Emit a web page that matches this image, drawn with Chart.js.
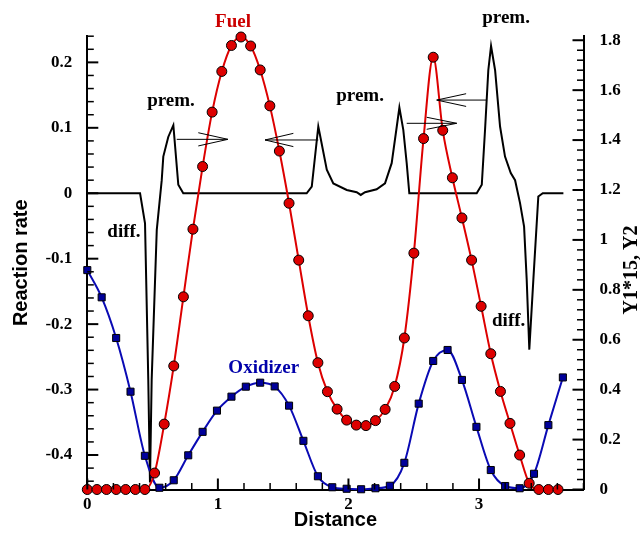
<!DOCTYPE html>
<html>
<head>
<meta charset="utf-8">
<script src="https://cdn.jsdelivr.net/npm/chart.js@4/dist/chart.umd.min.js"></script>
<style>
  html, body { margin: 0; padding: 0; background: #fff; }
  #wrap { width: 640px; height: 535px; }
</style>
</head>
<body>
<div id="wrap"><canvas id="c" width="640" height="535"></canvas></div>
<script>
// ---- data ----
const X_TICKS = [0, 1, 2, 3];
const LEFT_TICKS = [-0.4, -0.3, -0.2, -0.1, 0, 0.1, 0.2];
const RIGHT_TICKS = [0, 0.2, 0.4, 0.6, 0.8, 1, 1.2, 1.4, 1.6, 1.8];

const fuelX = [0, 0.074, 0.147, 0.221, 0.294, 0.368, 0.441, 0.515, 0.589, 0.662,
  0.736, 0.809, 0.883, 0.956, 1.030, 1.104, 1.177, 1.251, 1.324, 1.398,
  1.471, 1.545, 1.619, 1.692, 1.766, 1.839, 1.913, 1.986, 2.060, 2.134,
  2.207, 2.281, 2.354, 2.428, 2.501, 2.575, 2.649, 2.722, 2.796, 2.869,
  2.943, 3.016, 3.090, 3.164, 3.237, 3.311, 3.384, 3.458, 3.531, 3.605];
const fuelY = [0, 0, 0, 0, 0, 0, 0, 0.066, 0.262, 0.495,
  0.772, 1.043, 1.294, 1.512, 1.675, 1.779, 1.813, 1.777, 1.681, 1.537,
  1.356, 1.147, 0.919, 0.696, 0.508, 0.392, 0.322, 0.278, 0.258, 0.256,
  0.276, 0.321, 0.413, 0.607, 0.947, 1.406, 1.732, 1.439, 1.249, 1.088,
  0.919, 0.734, 0.544, 0.393, 0.265, 0.138, 0.025, 0, 0, 0];

const oxX = [0, 0.110, 0.221, 0.331, 0.441, 0.552, 0.662, 0.773, 0.883, 0.993,
  1.104, 1.214, 1.324, 1.435, 1.545, 1.655, 1.766, 1.876, 1.986, 2.097,
  2.207, 2.317, 2.428, 2.538, 2.649, 2.759, 2.869, 2.980, 3.090, 3.200,
  3.311, 3.421, 3.531, 3.642];
const oxY = [0.879, 0.770, 0.607, 0.392, 0.135, 0.007, 0.037, 0.137, 0.231, 0.316,
  0.372, 0.412, 0.428, 0.413, 0.336, 0.195, 0.053, 0.009, 0.003, 0.001,
  0.005, 0.015, 0.107, 0.344, 0.515, 0.559, 0.439, 0.251, 0.078, 0.014,
  0.005, 0.063, 0.258, 0.449];

const rateX = [0, 0.404, 0.442, 0.467, 0.480, 0.493, 0.532, 0.570, 0.582, 0.620,
  0.659, 0.697, 0.735, 1.680, 1.719, 1.769, 1.782, 1.834, 1.884, 1.987,
  2.063, 2.094, 2.127, 2.216, 2.280, 2.331, 2.370, 2.390, 2.420, 2.446,
  2.466, 2.982, 3.021, 3.046, 3.071, 3.092, 3.123, 3.161, 3.199, 3.243,
  3.276, 3.314, 3.345, 3.365, 3.385, 3.416, 3.454, 3.488, 3.646];
const rateY = [0, 0, -0.046, -0.285, -0.442, -0.285, -0.056, 0.020, 0.056, 0.086,
  0.104, 0.013, 0, 0, 0.010, 0.102, 0.089, 0.036, 0.015, 0.005,
  0.0015, -0.0026, 0.0015, 0.006, 0.015, 0.046, 0.102, 0.131, 0.097, 0.046,
  0, 0, 0.013, 0.097, 0.188, 0.225, 0.188, 0.102, 0.056, 0.031,
  0.020, -0.015, -0.051, -0.132, -0.239, -0.132, -0.005, 0, 0];

// annotation texts and arrows (data coordinates on x / left axis)
const LABELS = [
  { text: 'prem.', x: 0.641, y: 0.1333, color: '#000' },
  { text: 'prem.', x: 2.089, y: 0.1409, color: '#000' },
  { text: 'prem.', x: 3.207, y: 0.2600, color: '#000' },
  { text: 'diff.', x: 0.281, y: -0.0663, color: '#000' },
  { text: 'diff.', x: 3.227, y: -0.2021, color: '#000' },
  { text: 'Fuel', x: 1.116, y: 0.2540, color: '#cc0000' },
  { text: 'Oxidizer', x: 1.351, y: -0.2748, color: '#0000aa' }
];
const ARROWS = [
  { x0: 0.685, x1: 1.077, y: 0.0824, hx: 0.850, hh: 0.0101 },
  { x0: 1.769, x1: 1.361, y: 0.0814, hx: 1.578, hh: 0.0101 },
  { x0: 2.446, x1: 2.829, y: 0.1069, hx: 2.599, hh: 0.0092 },
  { x0: 3.059, x1: 2.676, y: 0.1424, hx: 2.901, hh: 0.0097 }
];

const pts = (xs, ys) => xs.map((x, i) => ({ x: x, y: ys[i] }));
const fmt = v => String(Math.round(v * 10) / 10);
const TICK_FONT = { family: 'Liberation Serif', size: 17, weight: 'bold' };

const decor = {
  id: 'decor',
  afterDraw(chart) {
    const ctx = chart.ctx;
    const sx = chart.scales.x, yl = chart.scales.y, yr = chart.scales.y2;
    const ca = chart.chartArea;
    ctx.save();
    ctx.strokeStyle = '#000';
    // inward ticks
    function ticks(scale, step, majorEvery, draw) {
      const lo = Math.ceil(scale.min / step - 1e-6), hi = Math.floor(scale.max / step + 1e-6);
      for (let k = lo; k <= hi; k++) {
        const major = (k % majorEvery) === 0;
        draw(scale.getPixelForValue(k * step), major);
      }
    }
    ticks(yl, 0.02, 5, (p, m) => {
      ctx.lineWidth = m ? 2 : 1.5;
      ctx.beginPath(); ctx.moveTo(ca.left, p); ctx.lineTo(ca.left + (m ? 11 : 6.5), p); ctx.stroke();
    });
    ticks(yr, 0.04, 5, (p, m) => {
      ctx.lineWidth = m ? 2 : 1.5;
      ctx.beginPath(); ctx.moveTo(ca.right, p); ctx.lineTo(ca.right - (m ? 11 : 6.5), p); ctx.stroke();
    });
    ticks(sx, 0.2, 5, (p, m) => {
      ctx.lineWidth = m ? 2 : 1.5;
      ctx.beginPath(); ctx.moveTo(p, ca.bottom); ctx.lineTo(p, ca.bottom - (m ? 11 : 6.5)); ctx.stroke();
    });
    // arrows
    ctx.lineWidth = 1;
    ARROWS.forEach(a => {
      const y = yl.getPixelForValue(a.y);
      const x0 = sx.getPixelForValue(a.x0), x1 = sx.getPixelForValue(a.x1), hx = sx.getPixelForValue(a.hx);
      const dh = Math.abs(yl.getPixelForValue(a.y + a.hh) - y);
      ctx.beginPath();
      ctx.moveTo(x0, y); ctx.lineTo(x1, y);
      ctx.moveTo(hx, y - dh); ctx.lineTo(x1, y); ctx.lineTo(hx, y + dh);
      ctx.stroke();
    });
    // labels
    ctx.textAlign = 'center';
    ctx.textBaseline = 'alphabetic';
    ctx.font = 'bold 19px "Liberation Serif"';
    LABELS.forEach(l => {
      ctx.fillStyle = l.color;
      ctx.fillText(l.text, sx.getPixelForValue(l.x), yl.getPixelForValue(l.y));
    });
    // right axis title (reads bottom to top)
    ctx.fillStyle = '#000';
    ctx.font = 'bold 20px "Liberation Serif"';
    ctx.translate(637, 270);
    ctx.rotate(-Math.PI / 2);
    ctx.fillText('Y1*15, Y2', 0, 0);
    ctx.restore();
  }
};

new Chart(document.getElementById('c'), {
  type: 'scatter',
  data: {
    datasets: [
      {
        label: 'Reaction rate', data: pts(rateX, rateY), yAxisID: 'y',
        showLine: true, borderColor: '#000', borderWidth: 2, pointRadius: 0,
        tension: 0, clip: false, order: 3
      },
      {
        label: 'Oxidizer', data: pts(oxX, oxY), yAxisID: 'y2',
        showLine: true, borderColor: '#0a0ab4', borderWidth: 2,
        cubicInterpolationMode: 'monotone',
        pointStyle: 'rect', pointRadius: 5, pointBackgroundColor: '#00009a',
        pointBorderColor: '#000', pointBorderWidth: 1, clip: false, order: 2
      },
      {
        label: 'Fuel', data: pts(fuelX, fuelY), yAxisID: 'y2',
        showLine: true, borderColor: '#dd0000', borderWidth: 2,
        cubicInterpolationMode: 'monotone',
        pointStyle: 'circle', pointRadius: 5, pointBackgroundColor: '#dd0000',
        pointBorderColor: '#000', pointBorderWidth: 1, clip: false, order: 1
      }
    ]
  },
  options: {
    responsive: false,
    animation: false,
    layout: { padding: { top: 36, left: 0, right: 0, bottom: 0 } },
    plugins: { legend: { display: false }, tooltip: { enabled: false } },
    scales: {
      x: {
        type: 'linear', position: 'bottom', min: 0, max: 3.8,
        afterBuildTicks: s => { s.ticks = X_TICKS.map(v => ({ value: v })); },
        afterFit: s => { s.height = 45.5; },
        grid: { display: false },
        border: { display: true, color: '#000', width: 2 },
        ticks: { color: '#000', font: TICK_FONT, padding: -3, maxRotation: 0, autoSkip: false, callback: v => fmt(v) },
        title: { display: true, text: 'Distance', color: '#000',
          font: { family: 'Liberation Sans', size: 20, weight: 'bold' }, padding: { top: 0, bottom: 3 } }
      },
      y: {
        type: 'linear', position: 'left', min: -0.4527, max: 0.2403,
        afterBuildTicks: s => { s.ticks = LEFT_TICKS.map(v => ({ value: v })); },
        afterFit: s => { s.width = 87.3; },
        grid: { display: false },
        border: { display: true, color: '#000', width: 2 },
        ticks: { color: '#000', font: TICK_FONT, padding: 7, autoSkip: false, callback: v => fmt(v) },
        title: { display: true, text: 'Reaction rate', color: '#000',
          font: { family: 'Liberation Sans', size: 20, weight: 'bold' }, padding: { top: 9, bottom: 0 } }
      },
      y2: {
        type: 'linear', position: 'right', min: 0, max: 1.817,
        afterBuildTicks: s => { s.ticks = RIGHT_TICKS.map(v => ({ value: v })); },
        afterFit: s => { s.width = 56.5; },
        grid: { display: false },
        border: { display: true, color: '#000', width: 2 },
        ticks: { color: '#000', font: TICK_FONT, padding: 8, autoSkip: false, callback: v => fmt(v) },
        title: { display: false }
      }
    }
  },
  plugins: [decor]
});
</script>
</body>
</html>
